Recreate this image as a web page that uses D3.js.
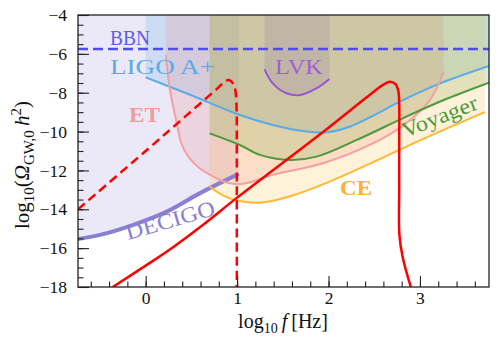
<!DOCTYPE html>
<html>
<head>
<meta charset="utf-8">
<script src="https://cdn.jsdelivr.net/npm/d3@7"></script>
<style>
  body { margin: 0; background: #fff; }
  text { font-family: "Liberation Serif", "DejaVu Serif", "Times New Roman", serif; }
</style>
</head>
<body>
<script>
"use strict";

// sensitivity curves, [log10 f, log10 Omega h^2]
var decigoCurve = [[-0.74,-15.53],[-0.5,-15.32],[-0.135,-14.8],[0.23,-14.12],[0.59,-13.18],[1.02,-12.18]];
var ligoCurve = [[0.0,-7.21],[0.5,-8.13],[1.03,-9.15],[1.39,-9.66],[1.76,-10.0],[1.98,-10.04],[2.23,-9.75],[2.5,-9.15],[2.78,-8.46],[3.22,-7.52],[3.755,-6.62]];
var etCurve = [[0.22,-6.06],[0.266,-7.86],[0.34,-9.57],[0.39,-10.6],[0.466,-11.29],[0.59,-11.89],[0.74,-12.32],[0.885,-12.62],[1.05,-12.7],[1.39,-12.23],[1.94,-11.63],[2.49,-10.6],[2.85,-9.57],[3.11,-8.37],[3.26,-6.92]];
var voyagerCurve = [[0.70,-10.09],[1.03,-10.69],[1.25,-11.2],[1.58,-11.46],[1.87,-11.29],[2.31,-10.43],[2.85,-9.23],[3.3,-8.3],[3.755,-7.48]];
var ceCurve = [[0.70,-12.83],[0.85,-13.3],[1.0,-13.55],[1.25,-13.66],[1.6,-13.3],[2.0,-12.6],[2.5,-11.55],[3.0,-10.45],[3.71,-9.0]];
var lvkCurve = [[1.30,-6.8],[1.39,-7.52],[1.54,-8.03],[1.69,-8.12],[1.87,-7.77],[2.01,-7.29]];
var bbnLevel = -5.75;

// signal spectra
var signalSolid = [[-0.36,-18],[0.0,-16.9],[0.3,-15.95],[0.6,-14.9],[1.0,-13.4],[1.5,-11.6],[2.0,-9.8],[2.4,-8.3],[2.58,-7.65],[2.67,-7.43],[2.73,-7.55],[2.765,-7.95],[2.773,-8.6],[2.773,-10.5],[2.773,-13],[2.775,-15.3],[2.81,-16.44],[2.9,-18]];
var signalDashed = [[-0.74,-14.0],[0.0,-11.0],[0.5,-8.95],[0.78,-7.8],[0.86,-7.45],[0.91,-7.35],[0.96,-7.55],[0.985,-8.0],[0.995,-9.0],[0.997,-11],[0.997,-14],[0.997,-18.3]];

var xTicks = [0, 1, 2, 3];
var yTicks = [-18, -16, -14, -12, -10, -8, -6, -4];

var margin = {top: 15, right: 9, bottom: 59, left: 78},
    width = 498 - margin.left - margin.right,
    height = 346 - margin.top - margin.bottom;

var x = d3.scaleLinear().domain([-0.74, 3.755]).range([0, width]);
var y = d3.scaleLinear().domain([-18, -4]).range([height, 0]);

var svg = d3.select("body").append("svg")
    .attr("width", 498)
    .attr("height", 346);

svg.append("defs").append("clipPath")
    .attr("id", "clip")
  .append("rect")
    .attr("width", width)
    .attr("height", height);

var g = svg.append("g")
    .attr("transform", "translate(" + margin.left + "," + margin.top + ")");

var plot = g.append("g").attr("clip-path", "url(#clip)");

var line = d3.line()
    .x(function(d) { return x(d[0]); })
    .y(function(d) { return y(d[1]); })
    .curve(d3.curveCatmullRom.alpha(0.5));

var areaAbove = d3.area()
    .x(function(d) { return x(d[0]); })
    .y0(function() { return y(-4); })
    .y1(function(d) { return y(d[1]); })
    .curve(d3.curveCatmullRom.alpha(0.5));

// detectors: fill above the curve, then the curve
var detectors = [
  {data: decigoCurve, fill: "#9b92d8", stroke: "#8a80d2", w: 4, op: 0.2},
  {data: ligoCurve, fill: "#5aa9e6", stroke: "#5aaae8", w: 2, op: 0.2},
  {data: etCurve, fill: "#f08080", stroke: "#f4a0a0", w: 2, op: 0.2},
  {data: voyagerCurve, fill: "#4a9a3a", stroke: "#4c9a3c", w: 2, op: 0.2},
  {data: ceCurve, fill: "#ffb833", stroke: "#ffb833", w: 2, op: 0.18},
  {data: lvkCurve, fill: "#8a62a8", stroke: "#9955d0", w: 2, op: 0.18}
];

plot.selectAll(".band").data(detectors)
  .enter().append("path")
    .attr("class", "band")
    .attr("d", function(d) { return areaAbove(d.data); })
    .attr("fill", function(d) { return d.fill; })
    .attr("fill-opacity", function(d) { return d.op; });

plot.selectAll(".curve").data(detectors)
  .enter().append("path")
    .attr("class", "curve")
    .attr("d", function(d) { return line(d.data); })
    .attr("fill", "none")
    .attr("stroke", function(d) { return d.stroke; })
    .attr("stroke-width", function(d) { return d.w; });

// BBN bound
plot.append("line")
    .attr("x1", 0).attr("x2", width)
    .attr("y1", y(bbnLevel)).attr("y2", y(bbnLevel))
    .attr("stroke", "#4c4cf0")
    .attr("stroke-width", 2.5)
    .attr("stroke-dasharray", "10,5");

// signals
plot.append("path")
    .attr("d", line(signalDashed))
    .attr("fill", "none")
    .attr("stroke", "#ff0000")
    .attr("stroke-width", 2.5)
    .attr("stroke-dasharray", "9,5");

plot.append("path")
    .attr("d", line(signalSolid))
    .attr("fill", "none")
    .attr("stroke", "#ff0000")
    .attr("stroke-width", 2.5);

// labels
function label(txt, px, py, color, opts) {
  opts = opts || {};
  var t = plot.append("text")
      .attr("x", px).attr("y", py)
      .attr("fill", color)
      .style("font-size", (opts.size || 22) + "px")
      .text(txt);
  if (opts.bold) t.style("font-weight", "bold");
  if (opts.len) t.attr("textLength", opts.len).attr("lengthAdjust", "spacingAndGlyphs");
  if (opts.rot) t.attr("transform", "rotate(" + opts.rot + "," + px + "," + py + ")");
  return t;
}
label("BBN", 110 - margin.left, 44.5 - margin.top, "#5c5cf0", {len: 40});
label("LIGO A+", 110 - margin.left, 73.5 - margin.top, "#5aaae8", {len: 105});
label("ET", 129 - margin.left, 122 - margin.top, "#f49a9a", {len: 31, bold: true});
label("LVK", 275 - margin.left, 73.5 - margin.top, "#a060d4", {len: 48});
label("CE", 340 - margin.left, 195 - margin.top, "#ffb02e", {len: 32, bold: true});
label("Voyager", 405 - margin.left, 138 - margin.top, "#4c9a3c", {rot: -21.6, len: 80});
label("DECIGO", 128 - margin.left, 240 - margin.top, "#8a80d2", {rot: -16, len: 92});

// axes: major + minor, ticks pointing inward
var xAxis = d3.axisBottom(x).tickValues(xTicks).tickSize(-11).tickPadding(5)
    .tickFormat(d3.format("d"));
var xMinor = d3.axisBottom(x).tickValues(d3.range(-0.6, 3.75, 0.2)).tickSize(-5.5).tickFormat("");
var yAxis = d3.axisLeft(y).tickValues(yTicks).tickSize(-11).tickPadding(11)
    .tickFormat(function(d) { return d < 0 ? "\u2212" + (-d) : d; });
var yMinor = d3.axisLeft(y).tickValues(d3.range(-17.5, -4, 0.5)).tickSize(-5.5).tickFormat("");

function styleAxis(sel) {
  sel.attr("font-family", null);
  sel.select(".domain").remove();
  sel.selectAll("line").attr("stroke", "#222").attr("stroke-width", 1.1);
  sel.selectAll("text")
      .attr("fill", "#111")
      .style("font-size", "17.5px");
}

g.append("g").attr("transform", "translate(0," + height + ")").call(xMinor).call(styleAxis);
g.append("g").attr("transform", "translate(0," + height + ")").call(xAxis).call(styleAxis);
g.append("g").call(yMinor).call(styleAxis);
g.append("g").call(yAxis).call(styleAxis);

g.append("rect")
    .attr("width", width)
    .attr("height", height)
    .attr("fill", "none")
    .attr("stroke", "#222")
    .attr("stroke-width", 1.3);

// axis titles
var xt = svg.append("text")
    .attr("x", 283).attr("y", 328)
    .attr("text-anchor", "middle")
    .attr("fill", "#111")
    .style("font-size", "20px");
xt.append("tspan").text("log");
xt.append("tspan").attr("dy", 5).style("font-size", "14px").text("10");
xt.append("tspan").attr("dy", -5).style("font-style", "italic").text("\u2009f");
xt.append("tspan").text("\u2009[Hz]");

var yt = svg.append("text")
    .attr("transform", "translate(29,165) rotate(-90)")
    .attr("text-anchor", "middle")
    .attr("fill", "#111")
    .style("font-size", "21px");
yt.append("tspan").text("log");
yt.append("tspan").attr("dy", 5).style("font-size", "15px").text("10");
yt.append("tspan").attr("dy", -5).text("(");
yt.append("tspan").style("font-style", "italic").text("\u03A9");
yt.append("tspan").attr("dy", 5).style("font-size", "15px").text("GW,0");
yt.append("tspan").attr("dy", -5).style("font-style", "italic").text("\u2009h");
yt.append("tspan").attr("dy", -8).style("font-size", "15px").text("2");
yt.append("tspan").attr("dy", 8).text(")");
</script>
</body>
</html>
